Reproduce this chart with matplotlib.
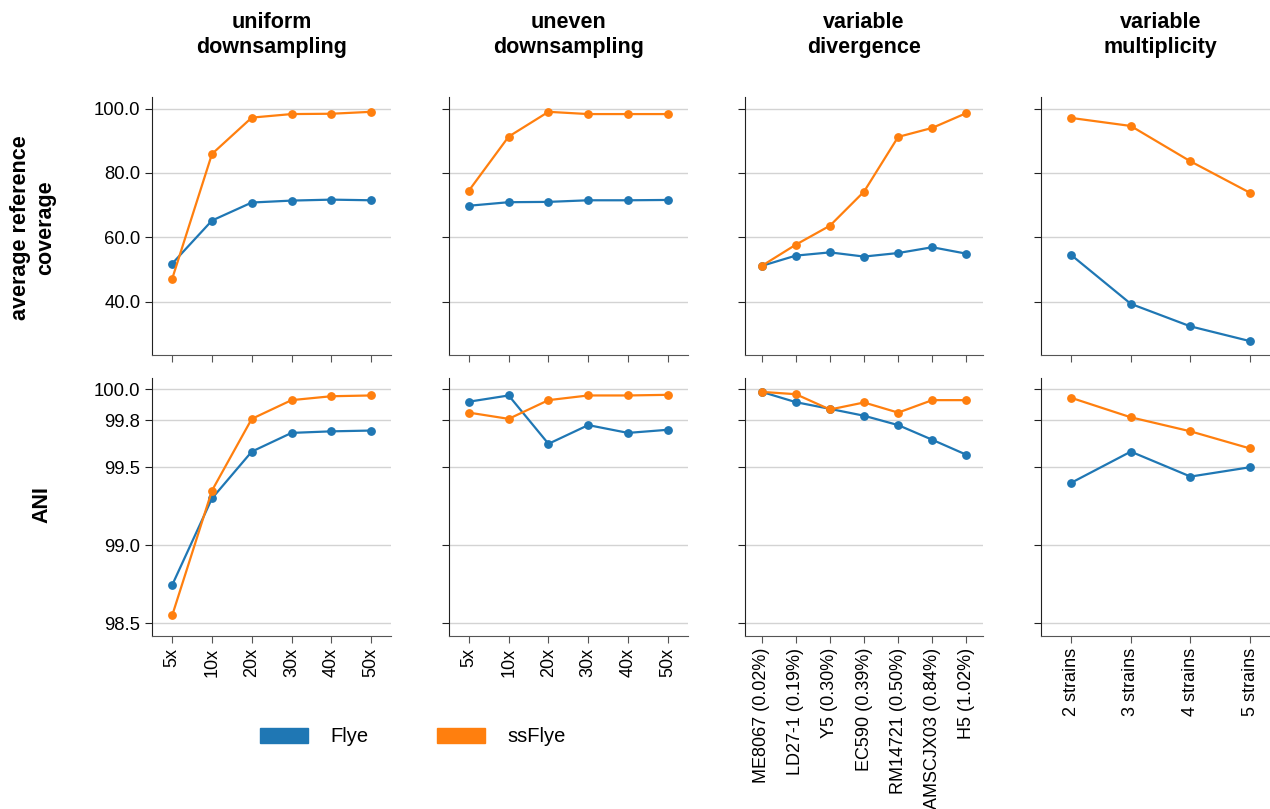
import matplotlib
matplotlib.use("Agg")
import matplotlib.pyplot as plt
from matplotlib.patches import Patch

plt.rcParams['font.family'] = ['Liberation Sans', 'DejaVu Sans']

# column titles and x categories
titles = ['uniform\ndownsampling', 'uneven\ndownsampling', 'variable\ndivergence', 'variable\nmultiplicity']
cats_uniform = ['5x', '10x', '20x', '30x', '40x', '50x']
cats_uneven = ['5x', '10x', '20x', '30x', '40x', '50x']
cats_div = ['ME8067 (0.02%)', 'LD27-1 (0.19%)', 'Y5 (0.30%)', 'EC590 (0.39%)',
            'RM14721 (0.50%)', 'AMSCJX03 (0.84%)', 'H5 (1.02%)']
cats_mult = ['2 strains', '3 strains', '4 strains', '5 strains']

# average reference coverage
cov_flye_uniform = [51.8, 65.2, 70.8, 71.4, 71.7, 71.5]
cov_ss_uniform = [47.1, 85.9, 97.2, 98.3, 98.4, 99.0]
cov_flye_uneven = [69.8, 70.9, 71.0, 71.5, 71.5, 71.6]
cov_ss_uneven = [74.5, 91.3, 99.0, 98.3, 98.3, 98.3]
cov_flye_div = [51.1, 54.3, 55.3, 54.0, 55.1, 56.9, 54.9]
cov_ss_div = [51.1, 57.7, 63.6, 74.2, 91.2, 94.0, 98.6]
cov_flye_mult = [54.5, 39.3, 32.3, 27.7]
cov_ss_mult = [97.1, 94.6, 83.6, 73.8]

# ANI
ani_flye_uniform = [98.745, 99.30, 99.60, 99.72, 99.73, 99.735]
ani_ss_uniform = [98.55, 99.35, 99.81, 99.93, 99.955, 99.96]
ani_flye_uneven = [99.92, 99.96, 99.65, 99.77, 99.72, 99.74]
ani_ss_uneven = [99.85, 99.81, 99.93, 99.96, 99.96, 99.964]
ani_flye_div = [99.983, 99.917, 99.874, 99.83, 99.77, 99.676, 99.58]
ani_ss_div = [99.983, 99.968, 99.87, 99.915, 99.85, 99.93, 99.93]
ani_flye_mult = [99.40, 99.60, 99.44, 99.50]
ani_ss_mult = [99.945, 99.82, 99.73, 99.62]

cov_ticks = [40.0, 60.0, 80.0, 100.0]
ani_ticks = [98.5, 99.0, 99.5, 99.8, 100.0]

blue = '#1f77b4'
orange = '#ff7f0e'

cats = [cats_uniform, cats_uneven, cats_div, cats_mult]
cov = [(cov_flye_uniform, cov_ss_uniform), (cov_flye_uneven, cov_ss_uneven),
       (cov_flye_div, cov_ss_div), (cov_flye_mult, cov_ss_mult)]
ani = [(ani_flye_uniform, ani_ss_uniform), (ani_flye_uneven, ani_ss_uneven),
       (ani_flye_div, ani_ss_div), (ani_flye_mult, ani_ss_mult)]

W, H = 1270, 809
fig = plt.figure(figsize=(12.7, 8.09), dpi=100)

lefts = [152.3, 449, 744.7, 1041.3]
aw = 238.7
rows = [(96.7, 355), (378.3, 635.7)]

for r, (top, bot) in enumerate(rows):
    for c in range(4):
        ax = fig.add_axes([lefts[c] / W, 1 - bot / H, aw / W, (bot - top) / H])
        x = list(range(len(cats[c])))
        flye, ss = (cov if r == 0 else ani)[c]
        ax.plot(x, flye, color=blue, marker='o', markersize=5.3, linewidth=1.6, zorder=3)
        ax.plot(x, ss, color=orange, marker='o', markersize=5.3, linewidth=1.6, zorder=3)
        ax.set_xlim(-0.5, len(x) - 0.5)
        ax.set_xticks(x)
        if r == 0:
            ax.set_ylim(23.4, 103.7)
            ax.set_yticks(cov_ticks)
            ax.set_xticklabels([])
        else:
            ax.set_ylim(98.42, 100.07)
            ax.set_yticks(ani_ticks)
            ax.set_xticklabels(cats[c], rotation=90, fontsize=13)
        if c == 0:
            ax.set_yticklabels([f'{t:.1f}' for t in ax.get_yticks()], fontsize=13.3)
        else:
            ax.set_yticklabels([])
        ax.grid(axis='y', color='#d3d3d3', linewidth=1)
        ax.set_axisbelow(True)
        ax.spines['top'].set_visible(False)
        ax.spines['right'].set_visible(False)
        ax.spines['left'].set_color('#222222')
        ax.spines['bottom'].set_color('#555555')
        ax.tick_params(axis='y', length=5, color='#222222')
        ax.tick_params(axis='x', length=5, color='#555555')

# column titles
for c in range(4):
    fig.text((lefts[c] + aw / 2) / W, 1 - 35 / H, titles[c], ha='center', va='center',
             fontsize=15.5, fontweight='bold', multialignment='center', linespacing=1.25)

fig.text(33 / W, 1 - 228 / H, 'average reference\ncoverage', rotation=90, ha='center',
         va='center', fontsize=15.5, fontweight='bold', multialignment='center',
         linespacing=1.25)
fig.text(42 / W, 1 - 505 / H, 'ANI', rotation=90, ha='center', va='center',
         fontsize=15.5, fontweight='bold')

handles = [Patch(color=blue, label='Flye'), Patch(color=orange, label='ssFlye')]
fig.legend(handles=handles, loc='center', bbox_to_anchor=(413 / W, 1 - 737 / H),
           ncol=2, frameon=False, fontsize=14.5, handlelength=2.4,
           handletextpad=1.1, columnspacing=3.4)

fig.savefig('out.png', dpi=100)
